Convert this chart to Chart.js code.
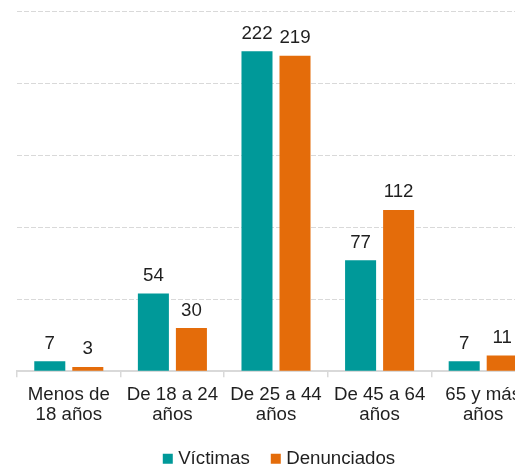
<!DOCTYPE html>
<html>
<head>
<meta charset="utf-8">
<script src="https://cdn.jsdelivr.net/npm/chart.js@4"></script>
<style>
  html, body { margin: 0; padding: 0; overflow: hidden; background: #fff; width: 515px; height: 464px; }
  canvas { display: block; }
</style>
</head>
<body>
<canvas id="c" width="552" height="478"></canvas>
<script>
const categories = [["Menos de", "18 años"], ["De 18 a 24", "años"], ["De 25 a 44", "años"], ["De 45 a 64", "años"], ["65 y más", "años"]];
const victimas = [7, 54, 222, 77, 7];
const denunciados = [3, 30, 219, 112, 11];
const seriesNames = ["Víctimas", "Denunciados"];

const FONT = "Arial, 'Liberation Sans', sans-serif";
const FS = 18.7;
const TEXT = "#1f1f1f";

const valueLabels = {
  id: 'valueLabels',
  beforeDraw(chart) {
    const lg = chart.legend;
    if (lg && !lg._shifted) { lg.left += 5; lg.right += 5; lg._shifted = true; }
  },
  afterDatasetsDraw(chart) {
    const ctx = chart.ctx;
    ctx.save();
    ctx.font = FS + "px " + FONT;
    ctx.fillStyle = TEXT;
    ctx.textAlign = 'center';
    ctx.textBaseline = 'alphabetic';
    chart.data.datasets.forEach((ds, i) => {
      const meta = chart.getDatasetMeta(i);
      meta.data.forEach((el, j) => {
        ctx.fillText(String(ds.data[j]), el.x, el.y - 12.5);
      });
    });
    ctx.restore();
  }
};

new Chart(document.getElementById('c'), {
  type: 'bar',
  data: {
    labels: categories,
    datasets: [
      { label: seriesNames[0], data: victimas, backgroundColor: '#009999', borderWidth: 0,
        barPercentage: 0.816, categoryPercentage: 0.734 },
      { label: seriesNames[1], data: denunciados, backgroundColor: '#E46C0A', borderWidth: 0,
        barPercentage: 0.816, categoryPercentage: 0.734 }
    ]
  },
  options: {
    responsive: false,
    animation: false,
    layout: { padding: { left: 17, right: 17, top: 11, bottom: 0 } },
    plugins: {
      legend: {
        position: 'bottom',
        labels: {
          usePointStyle: true, pointStyle: 'rect',
          boxWidth: 2, boxHeight: 10, padding: 25,
          color: TEXT,
          font: { family: FONT, size: FS }
        }
      },
      tooltip: { enabled: false }
    },
    scales: {
      x: {
        offset: true,
        afterFit(scale) { scale.height -= 9; },
        grid: { display: true, offset: true, drawOnChartArea: false, drawTicks: true, tickLength: 6, color: '#D9D9D9', lineWidth: 1.5 },
        border: { display: true, color: '#D9D9D9', width: 2 },
        ticks: { color: TEXT, font: { family: FONT, size: FS, lineHeight: 1.07 }, padding: 8, maxRotation: 0, autoSkip: false }
      },
      y: {
        min: 0, max: 250,
        ticks: { display: false, stepSize: 50 },
        grid: { drawTicks: false, color: (c) => c.tick && c.tick.value === 0 ? 'rgba(0,0,0,0)' : '#D9D9D9' },
        border: { display: false, dash: [5, 2] }
      }
    }
  },
  plugins: [valueLabels]
});
</script>
</body>
</html>
